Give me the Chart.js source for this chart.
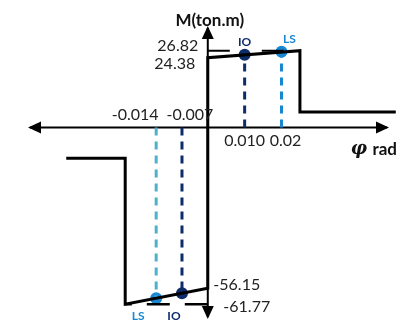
<!DOCTYPE html>
<html>
<head>
<meta charset="utf-8">
<script src="https://cdn.jsdelivr.net/npm/chart.js@4/dist/chart.umd.min.js"></script>
<style>
  body { margin: 0; background: #fff; }
  #wrap { width: 401px; height: 332px; position: relative; }
</style>
</head>
<body>
<div id="wrap"><canvas id="grafica"></canvas></div>
<script>
// backbone curve, positive side (rotation rad, moment ton.m)
const phiPos = [0, 0, 0.025, 0.025, 0.051];
const mPos = [0, 24.38, 26.82, 5.4, 5.4];
// backbone curve, negative side
const phiNeg = [0, 0, -0.0224, -0.0224, -0.0384];
const mNeg = [0, -56.15, -61.77, -10.8, -10.8];
// performance levels
const levels = ['IO', 'LS'];
const phiLevelPos = [0.010, 0.02];
const mLevelPos = [25.4, 26.4];
const phiLevelNeg = [-0.007, -0.014];
const mLevelNeg = [-57.9, -59.7];
// tick labels
const xTickValues = [-0.014, -0.007, 0.010, 0.02];
const xTickLabels = ['-0.014', '-0.007', '0.010', '0.02'];
const yTickValues = [26.82, 24.38, -56.15, -61.77];
const yTickLabels = ['26.82', '24.38', '-56.15', '-61.77'];

const navy = '#0e2c6a';
const blue = '#1787d3';
const teal = '#4fb0cc';

function pts(xs, ys) {
  return xs.map((x, i) => ({ x: x, y: ys[i] }));
}

function arrow(ctx, x, y, dir) {
  ctx.beginPath();
  if (dir === 'r') { ctx.moveTo(x, y); ctx.lineTo(x - 13, y - 6); ctx.lineTo(x - 13, y + 6); }
  if (dir === 'l') { ctx.moveTo(x, y); ctx.lineTo(x + 13, y - 6); ctx.lineTo(x + 13, y + 6); }
  if (dir === 'u') { ctx.moveTo(x, y); ctx.lineTo(x - 6, y + 13); ctx.lineTo(x + 6, y + 13); }
  if (dir === 'd') { ctx.moveTo(x, y); ctx.lineTo(x - 6, y - 13); ctx.lineTo(x + 6, y - 13); }
  ctx.closePath();
  ctx.fill();
}

// offsets (px) of the tick labels from their value
const xLabelShift = [[-21, -13], [8, -13], [0, 13], [4, 13]];
const yLabelShift = [[-30, -5], [-33, 6], [29, -3], [39, 3]];

const ejes = {
  id: 'ejes',
  beforeDatasetsDraw(chart) {
    const ctx = chart.ctx;
    const xs = chart.scales.x, ys = chart.scales.y;
    const x0 = xs.getPixelForValue(0), y0 = ys.getPixelForValue(0);
    const a = chart.chartArea;
    ctx.save();
    ctx.strokeStyle = '#000';
    ctx.fillStyle = '#000';
    ctx.lineWidth = 2;
    ctx.beginPath();
    ctx.moveTo(a.left + 24, y0); ctx.lineTo(a.right - 8, y0);
    ctx.moveTo(x0, a.top + 22); ctx.lineTo(x0, a.bottom - 9);
    ctx.stroke();
    arrow(ctx, a.left + 22, y0, 'l');
    arrow(ctx, a.right - 6, y0, 'r');
    arrow(ctx, x0, a.top + 20, 'u');
    arrow(ctx, x0, a.bottom - 7, 'd');
    ctx.restore();
  },
  afterDatasetsDraw(chart) {
    const ctx = chart.ctx;
    const xs = chart.scales.x, ys = chart.scales.y;
    const x0 = xs.getPixelForValue(0), y0 = ys.getPixelForValue(0);
    const a = chart.chartArea;
    ctx.save();
    ctx.textBaseline = 'middle';
    ctx.textAlign = 'center';
    ctx.fillStyle = '#222';
    ctx.font = '16px Lato, "Open Sans", sans-serif';
    xTickValues.forEach((v, i) => {
      ctx.fillText(xTickLabels[i], xs.getPixelForValue(v) + xLabelShift[i][0], y0 + xLabelShift[i][1]);
    });
    yTickValues.forEach((v, i) => {
      ctx.fillText(yTickLabels[i], x0 + yLabelShift[i][0], ys.getPixelForValue(v) + yLabelShift[i][1]);
    });
    // axis titles
    ctx.fillStyle = '#111';
    ctx.font = 'bold 17px Lato, "Open Sans", sans-serif';
    ctx.fillText('M(ton.m)', x0 + 2, a.top + 15);
    ctx.textAlign = 'right';
    ctx.fillText('rad', a.right + 2, y0 + 22);
    ctx.font = 'italic bold 18px "DejaVu Serif", serif';
    ctx.fillText('\u03c6', a.right - 28, y0 + 22);
    // performance level labels
    ctx.font = 'bold 12px Lato, "Open Sans", sans-serif';
    ctx.textAlign = 'center';
    levels.forEach((lv, i) => {
      ctx.fillStyle = i === 0 ? navy : blue;
      ctx.fillText(lv, xs.getPixelForValue(phiLevelPos[i]) + (i === 0 ? 0 : 8), ys.getPixelForValue(mLevelPos[i]) - 13);
      ctx.fillText(lv, xs.getPixelForValue(phiLevelNeg[i]) - (i === 0 ? 8 : 18), ys.getPixelForValue(-61.77) + 12);
    });
    ctx.restore();
  }
};

const datasets = [
  { data: pts([0, 0.025], [26.82, 26.82]), borderColor: '#000', borderWidth: 2, borderDash: [22, 32] },
  { data: pts([0, -0.0224], [-61.77, -61.77]), borderColor: '#000', borderWidth: 2.5, borderDash: [23, 15] },
  { data: pts(phiPos, mPos), borderColor: '#000', borderWidth: 3 },
  { data: pts(phiNeg, mNeg), borderColor: '#000', borderWidth: 3 }
];
levels.forEach((lv, i) => {
  datasets.push({ data: pts([phiLevelPos[i], phiLevelPos[i]], [0, mLevelPos[i]]), borderColor: i === 0 ? navy : blue, borderWidth: 3, borderDash: [8, 6] });
  datasets.push({ data: pts([phiLevelNeg[i], phiLevelNeg[i]], [0, mLevelNeg[i]]), borderColor: i === 0 ? navy : teal, borderWidth: 3, borderDash: [8, 6] });
});
datasets.push({
  data: pts(phiLevelPos.concat(phiLevelNeg), mLevelPos.concat(mLevelNeg)),
  showLine: false,
  pointRadius: 6,
  pointBackgroundColor: [navy, blue, navy, blue],
  pointBorderWidth: 0
});

const grafica = document.getElementById('grafica');
var chart = new Chart(grafica, {
  type: 'scatter',
  data: {
    datasets: datasets.map(d => Object.assign({ showLine: true, pointRadius: 0, fill: false, clip: false, borderCapStyle: 'butt' }, d))
  },
  options: {
    responsive: true,
    maintainAspectRatio: false,
    animation: false,
    layout: { padding: 0 },
    plugins: { legend: { display: false }, tooltip: { enabled: false } },
    scales: {
      x: { type: 'linear', display: false, min: -0.05474, max: 0.05079 },
      y: { type: 'linear', display: false, min: -69.36, max: 42.42 }
    }
  },
  plugins: [ejes]
});
</script>
</body>
</html>
